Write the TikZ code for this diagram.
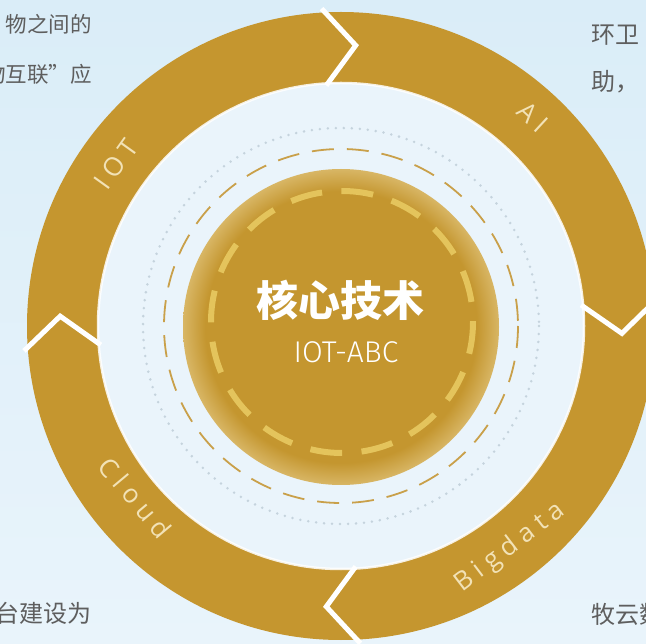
\documentclass[tikz,border=0pt]{standalone}
\usepackage{fontspec}
\usetikzlibrary{calc}
\newfontfamily\cjk{Noto Sans CJK SC}
\newfontfamily\lightfont{Fira Sans Light}
\newfontfamily\labfont[LetterSpace=25]{Open Sans}
\definecolor{bgtop}{HTML}{DAEDF8}
\definecolor{bgbot}{HTML}{E9F4FB}
\definecolor{innerbg}{HTML}{EAF4FB}
\definecolor{ringgold}{HTML}{C5962F}
\definecolor{discgold}{HTML}{C4962F}
\definecolor{discrim}{HTML}{D8B665}
\definecolor{thickdash}{HTML}{E4C45C}
\definecolor{thindash}{HTML}{C9A04A}
\definecolor{dotcol}{HTML}{C5D3DD}
\definecolor{labcol}{HTML}{F2E2B6}
\definecolor{txtgray}{HTML}{5E5E5E}
\pgfdeclareradialshading{discshade}{\pgfpoint{0bp}{0bp}}{color(0bp)=(discgold); color(21.5bp)=(discgold); color(25bp)=(discrim); color(50bp)=(discrim)}
\begin{document}
\begin{tikzpicture}[x=1pt,y=-1pt,
  chev/.style={draw=white, line width=5pt, line join=miter},
  lab/.style={font=\labfont\fontsize{26}{26}\selectfont, text=labcol, inner sep=0pt},
  ctext/.style={font=\cjk\fontsize{21.5}{22}\selectfont, text=txtgray, inner sep=0pt},
  ctextb/.style={font=\cjk\fontsize{24}{24}\selectfont, text=txtgray, inner sep=0pt}]
\useasboundingbox (0,0) rectangle (646,644);
\clip (0,0) rectangle (646,644);
\fill[top color=bgtop,bottom color=bgbot] (0,0) rectangle (646,644);
\coordinate (C) at (341,326);
% ring
\fill[ringgold] (C) circle[radius=314];
\fill[innerbg] (C) circle[radius=243];
\draw[white, line width=2.5pt, opacity=0.85] (C) circle[radius=243];
% dotted and thin dashed circles
\draw[dotcol, line width=2.8pt, line cap=round, dash pattern=on 0pt off 8pt] (C) circle[radius=198];
\draw[thindash, line width=1.8pt, dash pattern=on 22pt off 13pt] (C) circle[radius=177];
% centre disc
\coordinate (D) at (341,327);
\shade[shading=discshade] (D) circle[radius=158];
\coordinate (E) at (342,322);
\draw[thickdash, line width=6pt, dash pattern=on 32pt off 19.4pt] (E) circle[radius=131];
% chevrons
\foreach \th in {87,-1.5,267,178} {
  \draw[chev] ($(C)+({-(\th)-6.5}:318)$) -- ($(C)+({-(\th)}:281)$) -- ($(C)+({-(\th)-6.5}:241)$);
}
% ring labels
\node[lab, rotate=54.3] (iot) at ($(C)+(-144.3:277)$) {IOT};
\node[lab, rotate=-42.6] (ai) at ($(C)+(-47.4:284)$) {AI};
\node[lab, rotate=-50.1] (cloud) at ($(C)+(-219.9:268)$) {Cloud};
\node[lab, rotate=37.3] (big) at ($(C)+(52.7:279)$) {Bigdata};
% centre text
\node[font=\cjk\bfseries\fontsize{42}{42}\selectfont, text=white, inner sep=0pt] (title) at (340,300) {核心技术};
\node[font=\lightfont\fontsize{30}{30}\selectfont, text=white, inner sep=0pt] (sub) at (346,352) {IOT-ABC};
% corner texts
\node[ctext, anchor=east] (tl1) at (92,24) {物之间的};
\node[ctext, anchor=east] (tl2) at (92,74) {物互联”应};
\node[ctextb, anchor=west] (tr1) at (591,35) {环卫};
\node[ctextb, anchor=west] (tr2) at (591,82) {助，};
\node[ctextb, anchor=east] (bl) at (92,613) {台建设为};
\node[ctextb, anchor=west] (br) at (591,614) {牧云数};
\end{tikzpicture}
\end{document}
